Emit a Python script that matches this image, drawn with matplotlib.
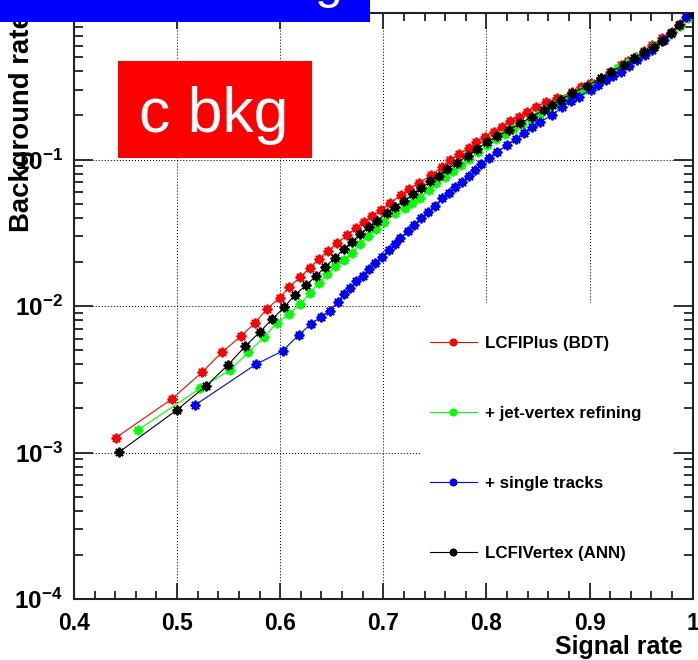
import matplotlib
matplotlib.use("Agg")
import matplotlib.pyplot as plt
from matplotlib.patches import Rectangle
from matplotlib.ticker import FixedLocator, LogLocator, NullFormatter

plt.rcParams['font.family'] = ['Liberation Sans', 'DejaVu Sans']
plt.rcParams['mathtext.fontset'] = 'custom'
plt.rcParams['mathtext.bf'] = 'Liberation Sans:bold'
plt.rcParams['mathtext.rm'] = 'Liberation Sans'

# ---- efficiency curves: signal rate vs background rate ----
bdt_sig = [0.4405, 0.4949, 0.524, 0.5434, 0.5618, 0.5757, 0.5871, 0.600, 0.6087, 0.6194,
           0.6284, 0.6376, 0.6466, 0.6553, 0.6648, 0.6731, 0.6816, 0.6893, 0.6981, 0.7068,
           0.7172, 0.7252, 0.7343, 0.7465, 0.757, 0.765, 0.7738, 0.7828, 0.790, 0.799,
           0.8071, 0.8152, 0.8233, 0.832, 0.8395, 0.8476, 0.858, 0.8686, 0.8832, 0.892,
           0.901, 0.9107, 0.920, 0.930, 0.9375, 0.9447, 0.953, 0.9609, 0.9705, 0.9803,
           0.9876, 0.9949]
bdt_bkg = [1.26e-3, 2.32e-3, 3.52e-3, 4.83e-3, 6.21e-3, 7.69e-3, 9.6e-3, 0.0114, 0.01355, 0.0157,
           0.01816, 0.02103, 0.02384, 0.02702, 0.03038, 0.03406, 0.03741, 0.0413, 0.04519, 0.0507,
           0.057, 0.063, 0.0689, 0.078, 0.0893, 0.0993, 0.109, 0.1192, 0.131, 0.1431,
           0.1548, 0.1675, 0.1832, 0.196, 0.212, 0.2293, 0.245, 0.2617, 0.2904, 0.312,
           0.333, 0.3583, 0.398, 0.4416, 0.472, 0.503, 0.553, 0.605, 0.670, 0.745,
           0.84, 0.954]

jv_sig = [0.4625, 0.5223, 0.5515, 0.5692, 0.5847, 0.5968, 0.6084, 0.6194, 0.6291, 0.6372,
          0.6453, 0.6534, 0.6615, 0.6696, 0.677, 0.6851, 0.6932, 0.701, 0.7117, 0.7207,
          0.7278, 0.7359, 0.744, 0.7515, 0.7595, 0.7675, 0.7755, 0.7835, 0.7915, 0.8007,
          0.809, 0.8175, 0.826, 0.8345, 0.843, 0.8515, 0.86, 0.8685, 0.877, 0.8855,
          0.894, 0.9025, 0.911, 0.9195, 0.928, 0.9365, 0.945, 0.9535, 0.962, 0.9705,
          0.979, 0.9875, 0.995]
jv_bkg = [1.43e-3, 2.74e-3, 3.66e-3, 4.83e-3, 6.17e-3, 7.69e-3, 8.81e-3, 0.01028, 0.01233, 0.01428,
          0.01645, 0.01875, 0.0206, 0.0231, 0.0264, 0.0302, 0.0336, 0.0373, 0.043, 0.0468,
          0.0502, 0.0548, 0.0619, 0.0689, 0.0757, 0.0839, 0.0915, 0.101, 0.112, 0.126,
          0.139, 0.150, 0.162, 0.175, 0.189, 0.204, 0.220, 0.238, 0.257, 0.277,
          0.299, 0.324, 0.350, 0.385, 0.420, 0.458, 0.498, 0.545, 0.592, 0.648,
          0.718, 0.815, 0.93]

st_sig = [0.5175, 0.5764, 0.6022, 0.6178, 0.6298, 0.6395, 0.6479, 0.6556, 0.6621, 0.668,
          0.6738, 0.6799, 0.6857, 0.6922, 0.6987, 0.7051, 0.7117, 0.7165, 0.7236, 0.7294,
          0.7366, 0.7434, 0.7498, 0.757, 0.7634, 0.7699, 0.7764, 0.7828, 0.7893, 0.7951,
          0.8022, 0.8104, 0.8201, 0.8282, 0.836, 0.8444, 0.8524, 0.8638, 0.8735, 0.8816,
          0.8896, 0.901, 0.9078, 0.9155, 0.9223, 0.9301, 0.9379, 0.9463, 0.9534, 0.9609,
          0.9722, 0.9786, 0.9932, 0.999]
st_bkg = [2.11e-3, 4.00e-3, 4.93e-3, 6.34e-3, 7.53e-3, 8.45e-3, 9.24e-3, 0.0107, 0.0120, 0.0132,
          0.0147, 0.0160, 0.0179, 0.0198, 0.0217, 0.0241, 0.0265, 0.029, 0.0325, 0.0357,
          0.0397, 0.0437, 0.0482, 0.0544, 0.0593, 0.0652, 0.0705, 0.0771, 0.0848, 0.0931,
          0.102, 0.113, 0.1256, 0.138, 0.152, 0.167, 0.181, 0.201, 0.229, 0.251,
          0.268, 0.298, 0.322, 0.349, 0.372, 0.397, 0.435, 0.478, 0.516, 0.558,
          0.654, 0.727, 0.944, 0.98]

ann_sig = [0.444, 0.4997, 0.5282, 0.5492, 0.5663, 0.5799, 0.5919, 0.6039, 0.6139, 0.6252,
           0.635, 0.6437, 0.6527, 0.6615, 0.6696, 0.6777, 0.6857, 0.6938, 0.7036, 0.7117,
           0.7204, 0.7287, 0.7369, 0.7456, 0.7537, 0.7618, 0.7715, 0.7818, 0.791, 0.8007,
           0.8104, 0.8217, 0.833, 0.8444, 0.8556, 0.8637, 0.8718, 0.8832, 0.8978, 0.9107,
           0.9204, 0.9333, 0.943, 0.9527, 0.9621, 0.9706, 0.9786, 0.9867, 1.0]
ann_bkg = [1.01e-3, 1.95e-3, 2.85e-3, 3.95e-3, 5.33e-3, 6.61e-3, 8.11e-3, 9.80e-3, 0.01189, 0.0139,
           0.0161, 0.01855, 0.0212, 0.0244, 0.0275, 0.031, 0.0348, 0.0382, 0.0434, 0.0476,
           0.0521, 0.058, 0.0635, 0.0713, 0.0775, 0.0857, 0.095, 0.106, 0.118, 0.132,
           0.144, 0.159, 0.177, 0.196, 0.218, 0.236, 0.255, 0.283, 0.318, 0.358,
           0.397, 0.441, 0.491, 0.540, 0.589, 0.647, 0.727, 0.828, 1.0]

series_labels = ["LCFIPlus (BDT)", "+ jet-vertex refining", "+ single tracks", "LCFIVertex (ANN)"]
series_colors = ["#ff0000", "#00ff00", "#0000ff", "#000000"]

x_ticks = [0.4, 0.5, 0.6, 0.7, 0.8, 0.9, 1.0]
x_ticklabels = ["0.4", "0.5", "0.6", "0.7", "0.8", "0.9", "1"]
y_ticks = [1e-4, 1e-3, 1e-2, 1e-1, 1.0]
y_ticklabels = [r"$\mathbf{10^{-4}}$", r"$\mathbf{10^{-3}}$", r"$\mathbf{10^{-2}}$",
                r"$\mathbf{10^{-1}}$", "1"]

W, H = 698, 660
fig = plt.figure(figsize=(W / 100, H / 100), dpi=100)
ax = fig.add_axes([74 / W, 61 / H, 618.7 / W, 586 / H])

ax.set_xlim(0.4, 1.0)
ax.set_yscale('log')
ax.set_ylim(1e-4, 1.0)

marker = (8, 2, 0)
handles = []
for xs, ys, col, lab in zip([bdt_sig, jv_sig, st_sig, ann_sig],
                            [bdt_bkg, jv_bkg, st_bkg, ann_bkg],
                            series_colors, series_labels):
    h, = ax.plot(xs, ys, color=col, lw=0.8, marker=marker, ms=7, mew=1.4,
                 mec=col, mfc=col, zorder=3, label=lab)
    handles.append(h)

# axes styling
ax.set_axisbelow(True)
for sp in ax.spines.values():
    sp.set_linewidth(1.5)
    sp.set_color('#222222')

ax.xaxis.set_major_locator(FixedLocator(x_ticks))
ax.set_xticklabels(x_ticklabels)
ax.xaxis.set_minor_locator(FixedLocator([0.4 + 0.02 * i for i in range(31)]))
ax.yaxis.set_major_locator(FixedLocator(y_ticks))
ax.set_yticklabels(y_ticklabels)
ax.yaxis.set_minor_locator(LogLocator(base=10, subs=range(2, 10)))
ax.yaxis.set_minor_formatter(NullFormatter())

ax.tick_params(axis='both', which='both', direction='in', top=True, right=True,
               color='#222222', width=1.3)
ax.tick_params(axis='x', which='major', length=11.5, pad=9)
ax.tick_params(axis='x', which='minor', length=5.8)
ax.tick_params(axis='y', which='major', length=14, pad=8)
ax.tick_params(axis='y', which='minor', length=6.5)
for lbl in ax.get_xticklabels():
    lbl.set_fontsize(16.5)
    lbl.set_fontweight('bold')
for lbl in ax.get_yticklabels():
    lbl.set_fontsize(17.5)
    lbl.set_fontweight('bold')

ax.grid(True, which='major', color='black', lw=0.75, linestyle=(0, (1, 1.9)))

# blank area behind the legend
ax.add_patch(Rectangle((0.561, 0.027), 0.968 - 0.561, 0.505 - 0.027,
                       transform=ax.transAxes, facecolor='white', edgecolor='none',
                       zorder=0.6))

leg = ax.legend(handles=handles, loc='upper left', bbox_to_anchor=(0.5754, 0.449),
                frameon=False, borderaxespad=0, borderpad=0, numpoints=1,
                handlelength=2.75, handletextpad=0.5, labelspacing=3.25,
                prop={'family': 'Liberation Sans', 'weight': 'bold', 'size': 12.2})
for lh in leg.legend_handles:
    lh.set_markersize(5.5)

ax.set_xlabel("Signal rate", fontsize=18, fontweight='bold', loc='right')
ax.xaxis.set_label_coords((683 - 74) / 618.7, -(635 - 599) / 586)
ax.set_ylabel("Background rate", fontsize=19.8, fontweight='bold', loc='top')
ax.yaxis.set_label_coords(-(74 - 35) / 618.7, 1.0)

# title banner along the top edge
fig.add_artist(Rectangle((0, 1 - 22 / H), 370 / W, 22 / H, transform=fig.transFigure,
                         facecolor='#0000ff', edgecolor='none', zorder=10))
fig.text(329 / W, 1 + 2 / H, "g", color='white', fontsize=36, ha='center',
         va='baseline', zorder=11)

# category box
fig.add_artist(Rectangle((118 / W, 1 - 158 / H), 194 / W, 97 / H, transform=fig.transFigure,
                         facecolor='#ff0000', edgecolor='none', zorder=10))
fig.text(213.5 / W, 1 - 132 / H, "c bkg", color='white', fontsize=45, ha='center',
         va='baseline', zorder=11)

fig.savefig("out.png", dpi=100)
